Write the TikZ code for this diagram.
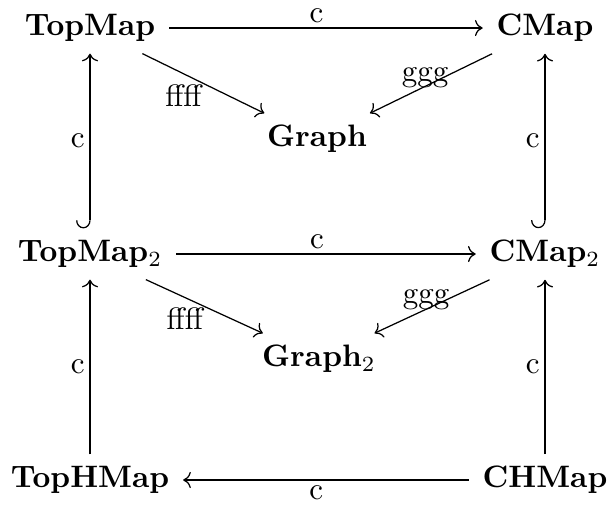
\documentclass[tikz,border=0pt]{standalone}
\usetikzlibrary{arrows.meta}
\begin{document}
\begin{tikzpicture}[x=0.3226pt,y=-0.3226pt,
  obj/.style={inner xsep=1ex, inner ysep=0.85ex, font=\bfseries},
  arr/.style={-{Computer Modern Rightarrow}, line width=0.4pt},
  hookarr/.style={{Hooks[right, width=9pt, length=2.6pt]}-{Computer Modern Rightarrow}, line width=0.4pt},
  lab/.style={inner sep=1.5pt}]
\useasboundingbox (0,0) rectangle (610,507);
\node[obj] (tm)  at (90,28)   {TopMap};
\node[obj] (cm)  at (545,28)  {CMap};
\node[obj] (g)   at (317,139) {Graph};
\node[obj] (tm2) at (90,254)  {TopMap$_2$};
\node[obj] (cm2) at (545,254) {CMap$_2$};
\node[obj] (g2)  at (319,359) {Graph$_2$};
\node[obj] (th)  at (90,480)  {TopHMap};
\node[obj] (ch)  at (545,480) {CHMap};
\draw[arr] (tm) -- node[lab, above, pos=0.47] {c} (cm);
\draw[arr] (tm) -- node[lab, pos=0.405, shift={(-8.4,17.4)}] {ffff} (g);
\draw[arr] (cm) -- node[lab, pos=0.512, shift={(-4.5,-7)}] {ggg} (g);
\draw[hookarr] (tm2) -- node[lab, left] {c} (tm);
\draw[hookarr] (cm2) -- node[lab, left] {c} (cm);
\draw[arr] (tm2) -- node[lab, above, pos=0.47] {c} (cm2);
\draw[arr] (tm2) -- node[lab, pos=0.405, shift={(-8.4,17.4)}] {ffff} (g2);
\draw[arr] (cm2) -- node[lab, pos=0.512, shift={(-4.5,-7)}] {ggg} (g2);
\draw[arr] (th) -- node[lab, left] {c} (tm2);
\draw[arr] (ch) -- node[lab, left] {c} (cm2);
\draw[arr] (ch) -- node[lab, below, pos=0.534] {c} (th);
\end{tikzpicture}
\end{document}
